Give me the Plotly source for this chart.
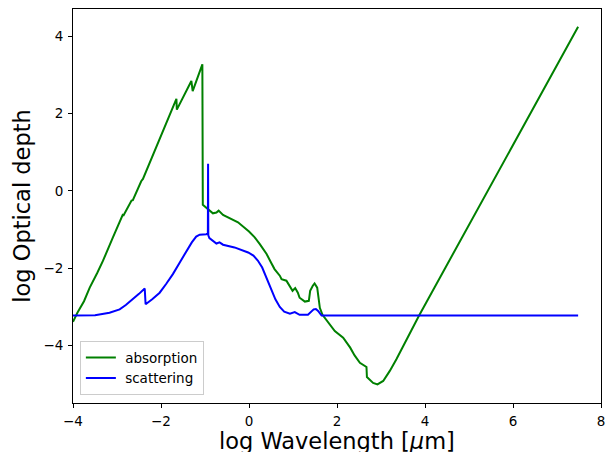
import plotly.graph_objects as go

# absorption (green)
abs_x = [-4.0, -3.9, -3.75, -3.62, -3.45, -3.32, -3.1, -2.90, -2.87, -2.85, -2.67, -2.64,
         -2.48, -2.45, -2.41, -1.65, -1.64, -1.31, -1.28, -1.06, -1.05, -0.93, -0.82, -0.74,
         -0.69, -0.59, -0.25, 0.0, 0.13, 0.25, 0.40, 0.50, 0.58, 0.70, 0.74, 0.85, 0.93, 0.99,
         1.05, 1.11, 1.15, 1.27, 1.36, 1.39, 1.45, 1.49, 1.55, 1.61, 1.67, 1.83, 1.95, 2.14,
         2.30, 2.40, 2.52, 2.67, 2.68, 2.82, 2.92, 3.05, 3.20, 3.35, 3.86, 7.48]
abs_y = [-3.38, -3.15, -2.85, -2.50, -2.12, -1.81, -1.22, -0.68, -0.62, -0.63, -0.25, -0.24,
         0.18, 0.25, 0.31, 2.38, 2.10, 2.84, 2.58, 3.27, -0.36, -0.48, -0.58, -0.56,
         -0.51, -0.62, -0.81, -1.05, -1.20, -1.38, -1.63, -1.85, -2.02, -2.19, -2.28, -2.32, -2.45, -2.58,
         -2.51, -2.63, -2.76, -2.86, -2.84, -2.58, -2.45, -2.39, -2.50, -3.02, -3.20, -3.43, -3.62, -3.79,
         -4.05, -4.25, -4.44, -4.55, -4.81, -4.96, -5.00, -4.91, -4.65, -4.35, -3.23, 4.24]

# scattering (blue)
sca_x = [-4.0, -3.5, -3.17, -3.05, -2.94, -2.80, -2.64, -2.50, -2.37, -2.35, -2.20, -2.03,
         -1.88, -1.73, -1.58, -1.42, -1.30, -1.20, -1.12,
         -0.97, -0.935, -0.93, -0.925, -0.90, -0.82, -0.74, -0.67, -0.59, -0.33, -0.02, 0.10,
         0.20, 0.30, 0.40, 0.50, 0.60, 0.70, 0.80, 0.93, 1.04, 1.15, 1.34, 1.47, 1.52, 1.57,
         1.65, 7.48]
sca_y = [-3.22, -3.21, -3.15, -3.11, -3.06, -2.95, -2.80, -2.66, -2.52, -2.93, -2.80, -2.63,
         -2.40, -2.15, -1.86, -1.55, -1.33, -1.18, -1.13,
         -1.12, -1.10, 0.70, -1.15, -1.22, -1.29, -1.36, -1.33, -1.39, -1.46, -1.59, -1.67,
         -1.80, -1.98, -2.24, -2.52, -2.80, -3.00, -3.12, -3.17, -3.13, -3.20, -3.20, -3.06, -3.05, -3.10,
         -3.22, -3.22]

x_ticks = [-4, -2, 0, 2, 4, 6, 8]
y_ticks = [-4, -2, 0, 2, 4]
x_title = "log Wavelength [<i>μ</i>m]"
y_title = "log Optical depth"

fig = go.Figure()
fig.add_trace(go.Scatter(x=abs_x, y=abs_y, mode="lines", name="\u00a0absorption",
                         line=dict(color="green", width=2)))
fig.add_trace(go.Scatter(x=sca_x, y=sca_y, mode="lines", name="\u00a0scattering",
                         line=dict(color="blue", width=2)))

axis_common = dict(showline=True, linecolor="black", linewidth=1, mirror=True,
                   ticks="outside", ticklen=4, tickcolor="black", showgrid=False,
                   zeroline=False, ticklabelstandoff=2,
                   tickfont=dict(family="DejaVu Sans", size=13.5, color="black"))

fig.update_layout(
    width=611, height=452,
    margin=dict(l=73, r=10, t=9, b=49),
    paper_bgcolor="white", plot_bgcolor="white",
    font=dict(family="DejaVu Sans", color="black"),
    xaxis=dict(range=[-4, 8], tickvals=x_ticks, automargin=False, **axis_common),
    yaxis=dict(range=[-5.48, 4.70], tickvals=y_ticks,
               title=dict(text=y_title, font=dict(size=22.5), standoff=6),
               **axis_common),
    legend=dict(x=0.013, y=0.02, xanchor="left", yanchor="bottom",
                bgcolor="rgba(255,255,255,0.8)", bordercolor="#cccccc", borderwidth=1,
                font=dict(size=13.5)),
    showlegend=True,
)
fig.add_annotation(text=x_title, xref="paper", yref="paper", x=0.5, y=0,
                   xanchor="center", yanchor="middle", yshift=-38, showarrow=False,
                   font=dict(size=22.5, family="DejaVu Sans", color="black"))

fig.write_html("out.html")
